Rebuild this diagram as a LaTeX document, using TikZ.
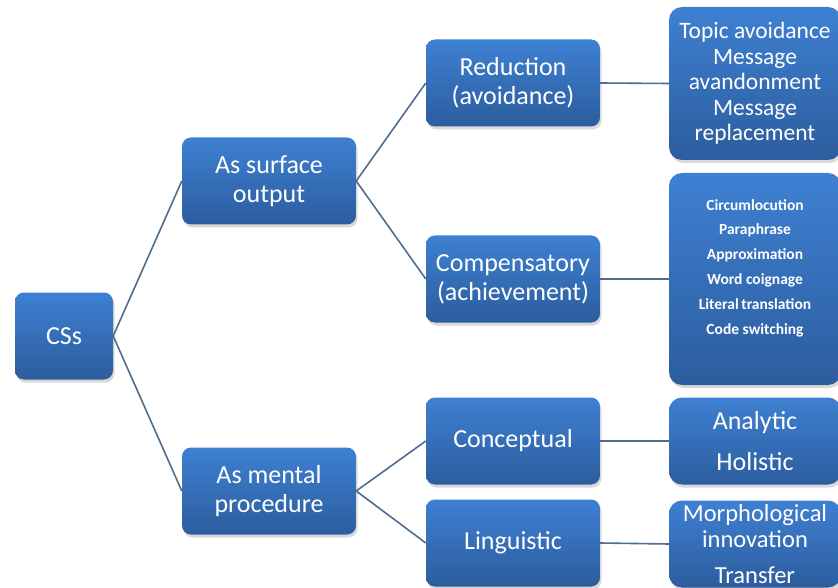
\documentclass[tikz,border=0pt]{standalone}
\usepackage{fontspec}
\setmainfont{Carlito}
\usepackage{tikz}
\usetikzlibrary{shadows}
\definecolor{boxtop}{RGB}{62, 128, 210}
\definecolor{boxbot}{RGB}{44, 93, 158}
\definecolor{edge}{RGB}{80, 108, 143}

\begin{document}
\begin{tikzpicture}[
   x=1pt, y=-1pt,
   cbox/.style={rectangle, rounded corners=9, top color=boxtop, bottom color=boxbot,
                draw=none, text=white, align=center, inner sep=0,
                minimum width=174, minimum height=87,
                font=\fontsize{26}{29}\selectfont,
                drop shadow={shadow xshift=1.5pt, shadow yshift=-3pt, opacity=0.3}},
   rootbox/.style={cbox, minimum width=98},
   leafbox/.style={cbox, rounded corners=13, minimum width=172},
   smalltext/.style={font=\fontsize{15.5}{24.8}\selectfont\bfseries}
  ]

  \useasboundingbox (0, 0) rectangle (838, 588);

  \node (N1) at (64, 336) [rootbox] {CSs};

  \node (N2) at (269, 181) [cbox] {As surface\\output};
  \node (N3) at (269, 491) [cbox] {As mental\\procedure};

  \node (N4) at (513, 83) [cbox] {Reduction\\(avoidance)};
  \node (N5) at (513, 279) [cbox] {Compensatory\\(achievement)};
  \node (N6) at (513, 441) [cbox] {Conceptual};
  \node (N7) at (513, 543) [cbox] {Linguistic};

  \node (N8) at (755, 83.5) [leafbox, minimum height=153,
        font=\fontsize{23.5}{25.5}\selectfont]
        {Topic avoidance\\Message\\avandonment\\Message\\replacement};
  \node (N9) at (755, 279) [leafbox, minimum height=212, smalltext]
        {Circumlocution\\Paraphrase\\Approximation\\Word coignage\\Literal\,translation\\Code switching\\\mbox{}};
  \node (N10) at (755, 441) [leafbox] {Analytic\\[12pt]Holistic};
  \node (N11) at (755, 544) [leafbox, font=\fontsize{24.5}{26}\selectfont]
        {Morphological\\innovation\\[10pt]Transfer};

  \foreach \B/\E in {N1/N2, N1/N3, N2/N4, N2/N5, N3/N6, N3/N7, N4/N8, N5/N9, N6/N10, N7/N11} {
    \draw[color=edge, line width=1.6] (\B.east) -- (\E.west);
  }

\end{tikzpicture}
\end{document}
